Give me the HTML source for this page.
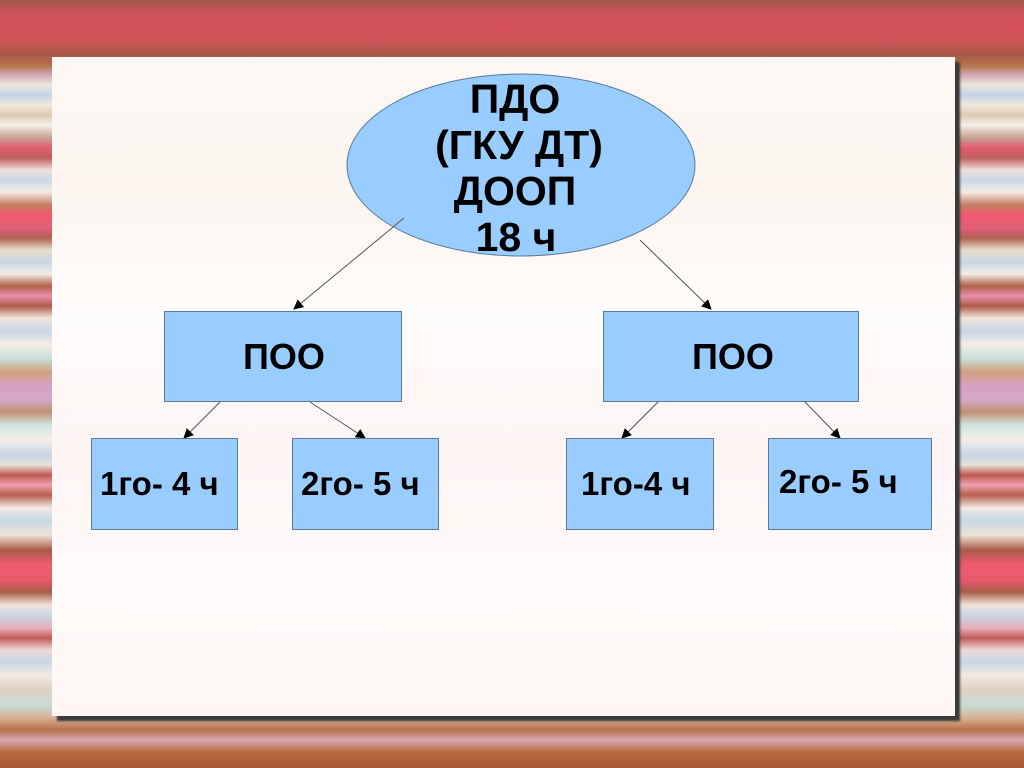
<!DOCTYPE html>
<html><head><meta charset="utf-8"><style>
html,body{margin:0;padding:0;}
body{width:1024px;height:768px;position:relative;overflow:hidden;font-family:"Liberation Sans",sans-serif;
background:linear-gradient(to bottom,
#a0584a 0px,#c9525a 12px,#d45257 25px,#cf5256 40px,#a55a4a 55px,#b8744a 66px,#d0a8b8 75px,#efe7dc 85px,#c0d4e8 95px,#f2e8df 105px,#dcc8b0 115px,#f5efe8 125px,#c8a090 138px,#e05c70 148px,#c06060 158px,#f0e0d8 170px,#c8d8e8 180px,#f5ede6 192px,#c47c60 205px,#f05a70 215px,#e0607a 228px,#b06050 238px,#eadccc 250px,#c8d6e6 262px,#f3ece4 274px,#b0604a 286px,#e890a8 296px,#b05a4a 306px,#f0e4da 318px,#c8d6e8 332px,#f5ede4 344px,#c8e2dc 358px,#d0a080 372px,#d8a0c0 385px,#d4a8c8 400px,#c09070 412px,#d0e4e0 425px,#f6eee8 440px,#c4d4e8 455px,#e8e0d8 465px,#c05a50 475px,#f0a0b0 485px,#b86050 495px,#f2eae2 508px,#c8d8e6 520px,#ede2d6 535px,#a85a48 550px,#f05c70 565px,#e85a6e 580px,#a85c48 592px,#f0e4da 605px,#c8d6e6 615px,#e8b0b8 628px,#c05c5a 638px,#f0d8d8 650px,#c8d6e8 662px,#f2ebe2 675px,#e0d0c0 690px,#c8dcd8 705px,#d8b090 718px,#b87050 730px,#d8a8b0 740px,#b86a40 752px,#a85a38 768px);}
.panel{position:absolute;left:52px;top:57px;width:903px;height:659px;
background:linear-gradient(to bottom,#fdf8f4,#fcf5f0 20%,#fefcfb 40%,#fdf4f4 60%,#fefbfa 80%,#fdf6f4);
box-shadow:5px 5px 2px #3a3a3a;}
.box{position:absolute;background:#99ccff;border:1px solid #5a7a9a;box-sizing:border-box;font-weight:bold;color:#000;display:flex;align-items:center;white-space:nowrap;}
</style></head><body>
<div class="panel"></div>
<svg width="1024" height="768" style="position:absolute;left:0;top:0">
<defs><marker id="a" markerWidth="10" markerHeight="10" refX="9" refY="5" orient="auto" markerUnits="userSpaceOnUse"><path d="M0,0 L10,5 L0,10 z" fill="#000"/></marker></defs>
<ellipse cx="521" cy="165" rx="174" ry="91" fill="#99ccff" stroke="#5a7a9a" stroke-width="1"/>
<g stroke="#555" stroke-width="1" fill="none" marker-end="url(#a)">
<line x1="404" y1="218" x2="294" y2="309"/>
<line x1="640" y1="240" x2="711" y2="309"/>
<line x1="220" y1="402" x2="184" y2="438"/>
<line x1="310" y1="402" x2="365" y2="438"/>
<line x1="658" y1="402" x2="622" y2="438"/>
<line x1="805" y1="402" x2="840" y2="438"/>
</g>
<g font-family="Liberation Sans" font-weight="bold" font-size="41" text-anchor="middle">
<text x="515" y="113">ПДО</text>
<text x="519" y="159">(ГКУ ДТ)</text>
<text x="515" y="205">ДООП</text>
<text x="516" y="251">18 ч</text>
</g>
</svg>
<div class="box" style="left:164px;top:311px;width:238px;height:91px;font-size:36px;padding-left:78px">ПОО</div>
<div class="box" style="left:603px;top:311px;width:256px;height:91px;font-size:36px;padding-left:88px">ПОО</div>
<div class="box" style="left:91px;top:438px;width:147px;height:92px;font-size:33px;padding-left:8px">1го- 4 ч</div>
<div class="box" style="left:292px;top:438px;width:147px;height:92px;font-size:33px;padding-left:8px">2го- 5 ч</div>
<div class="box" style="left:566px;top:438px;width:148px;height:92px;font-size:33px;padding-left:14px">1го-4 ч</div>
<div class="box" style="left:768px;top:438px;width:164px;height:92px;font-size:33px;padding-left:10px;align-items:flex-start;padding-top:24px">2го- 5 ч</div>
</body></html>
